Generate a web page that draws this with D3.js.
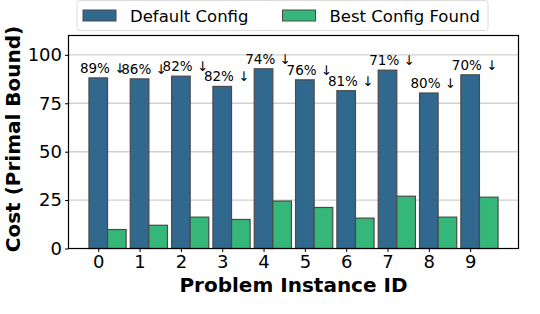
<!DOCTYPE html>
<html>
<head>
<meta charset="utf-8">
<script src="https://cdn.jsdelivr.net/npm/d3@7"></script>
<style>
	body { margin: 0; background: #fff; }
	svg { display: block; font-family: "DejaVu Sans", sans-serif; }
</style>
</head>
<body>
<div id="chart"></div>
<script>
// values
var instances = [0, 1, 2, 3, 4, 5, 6, 7, 8, 9];
var defaultCost = [88.1, 87.6, 89.0, 83.7, 92.8, 87.1, 81.5, 92.1, 80.3, 89.7];
var bestCost = [9.8, 12.0, 16.2, 15.0, 24.5, 21.2, 15.7, 27.0, 16.2, 26.5];
var reductionLabels = ["89%", "86%", "82%", "82%", "74%", "76%", "81%", "71%", "80%", "70%"];
var yTicks = [0, 25, 50, 75, 100];
var seriesNames = ["Default Config", "Best Config Found"];
var colors = ["#31688e", "#35b779"];

var width = 540, height = 314;
var margin = {left: 68.5, right: 21.5, top: 35.5, bottom: 65.5};
var barW = 0.45;

var svg = d3.select("#chart").append("svg")
	.attr("width", width)
	.attr("height", height);

//matplotlib style 5% margins around the bars
var xMin = -barW / 2, xMax = 9 + 1.5 * barW;
var pad = (xMax - xMin) * 0.05;
var x = d3.scaleLinear()
	.domain([xMin - pad, xMax + pad])
	.range([margin.left, width - margin.right]);

var y = d3.scaleLinear()
	.domain([0, 110])
	.range([height - margin.bottom, margin.top]);

//grid behind bars
svg.append("g").selectAll("line")
	.data(yTicks.slice(1))
	.enter().append("line")
	.attr("x1", x.range()[0]).attr("x2", x.range()[1])
	.attr("y1", function(d) { return y(d); })
	.attr("y2", function(d) { return y(d); })
	.attr("stroke", "#d0d0d0")
	.attr("stroke-width", 1.4);

var unit = x(1) - x(0);

svg.append("g").selectAll("rect")
	.data(instances)
	.enter().append("rect")
	.attr("x", function(d) { return x(d - barW / 2); })
	.attr("y", function(d, i) { return y(defaultCost[i]); })
	.attr("width", barW * unit)
	.attr("height", function(d, i) { return y(0) - y(defaultCost[i]); })
	.attr("fill", colors[0])
	.attr("stroke", "#4a4a4a")
	.attr("stroke-width", 1.2);

svg.append("g").selectAll("rect")
	.data(instances)
	.enter().append("rect")
	.attr("x", function(d) { return x(d + barW / 2); })
	.attr("y", function(d, i) { return y(bestCost[i]); })
	.attr("width", barW * unit)
	.attr("height", function(d, i) { return y(0) - y(bestCost[i]); })
	.attr("fill", colors[1])
	.attr("stroke", "#4a4a4a")
	.attr("stroke-width", 1.2);

//reduction labels above default bars, arrow forced to text presentation
svg.append("g").selectAll("text")
	.data(instances)
	.enter().append("text")
	.attr("x", function(d) { return x(d) + 4.5; })
	.attr("y", function(d, i) { return y(defaultCost[i]) - 5; })
	.attr("text-anchor", "middle")
	.attr("font-family", "'DejaVu Sans'")
	.attr("font-size", 13.5)
	.text(function(d, i) { return reductionLabels[i] + " \u2193\uFE0E"; });

//frame
svg.append("rect")
	.attr("x", x.range()[0]).attr("y", margin.top)
	.attr("width", x.range()[1] - x.range()[0])
	.attr("height", y(0) - margin.top)
	.attr("fill", "none")
	.attr("stroke", "#000")
	.attr("stroke-width", 1.2);

var xAxis = svg.append("g")
	.attr("transform", "translate(0," + y(0) + ")")
	.call(d3.axisBottom(x).tickValues(instances).tickFormat(d3.format("d")).tickSize(3.5).tickPadding(3));
var yAxis = svg.append("g")
	.attr("transform", "translate(" + x.range()[0] + ",0)")
	.call(d3.axisLeft(y).tickValues(yTicks).tickSize(3.5).tickPadding(3));

[xAxis, yAxis].forEach(function(ax) {
	ax.select(".domain").remove();
	ax.selectAll("text").attr("font-size", 18).attr("font-family", "DejaVu Sans").attr("fill", "#000");
	ax.selectAll("line").attr("stroke", "#000");
});

svg.append("text")
	.attr("x", (x.range()[0] + x.range()[1]) / 2)
	.attr("y", 292)
	.attr("text-anchor", "middle")
	.attr("font-size", 20)
	.attr("font-weight", "bold")
	.text("Problem Instance ID");

svg.append("text")
	.attr("transform", "translate(19.5,139) rotate(-90)")
	.attr("text-anchor", "middle")
	.attr("font-size", 20)
	.attr("font-weight", "bold")
	.text("Cost (Primal Bound)");

//legend
var legend = svg.append("g");
legend.append("rect")
	.attr("x", 77).attr("y", 0.5)
	.attr("width", 411).attr("height", 30)
	.attr("rx", 3)
	.attr("fill", "#fff")
	.attr("fill-opacity", 0.8)
	.attr("stroke", "#dcdcdc");
var items = legend.selectAll("g.item")
	.data(seriesNames)
	.enter().append("g")
	.attr("transform", function(d, i) { return "translate(" + [83, 282.5][i] + ",0)"; });
items.append("rect")
	.attr("x", 0).attr("y", 10)
	.attr("width", 33).attr("height", 11)
	.attr("fill", function(d, i) { return colors[i]; })
	.attr("stroke", "#4a4a4a");
items.append("text")
	.attr("x", 47).attr("y", 21.5)
	.attr("font-size", 16.5)
	.text(function(d) { return d; });

//caption line of the page below the figure, only its top shows
svg.append("text")
	.attr("x", 95)
	.attr("y", 327)
	.attr("font-family", "Liberation Serif")
	.attr("font-size", 17)
	.text("performance of the (average 80%) and find configurations that");
</script>
</body>
</html>
